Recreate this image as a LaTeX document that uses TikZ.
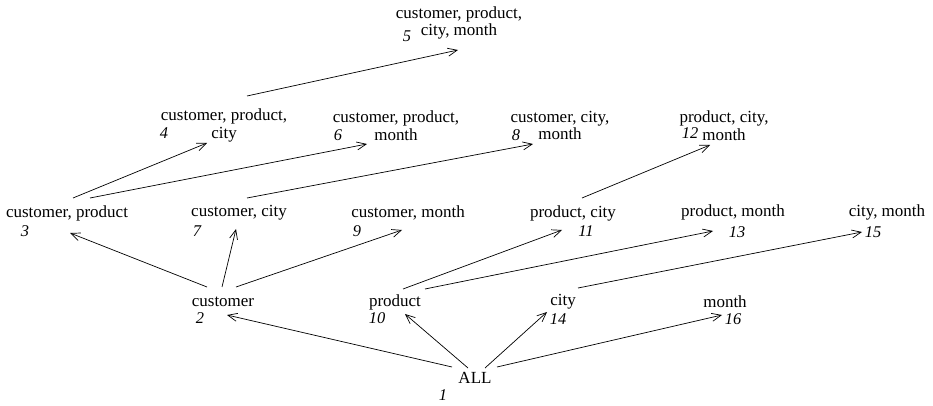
\documentclass[tikz,border=0pt]{standalone}
\usepackage{fontspec}
\setmainfont{Liberation Serif}
\usepackage{tikz}
\usetikzlibrary{arrows.meta}

\begin{document}
\begin{tikzpicture}[
  cell/.style={inner sep=0pt,align=center,font=\fontsize{14.5}{15}\selectfont},
  num/.style={inner sep=0pt,font=\fontsize{14}{15}\selectfont\itshape},
  up/.style={-{Straight Barb[length=2.8mm,width=2.4mm]},line width=0.6pt}]
\useasboundingbox (0,0) rectangle (27.99,12.18);

% lattice of cuboids
\node[cell] (all) at (14.25,0.84) {ALL};
\node[cell] (cu) at (6.69,3.12) {customer};
\node[cell] (pr) at (11.85,3.12) {product};
\node[cell] (ci) at (16.89,3.12) {city};
\node[cell] (mo) at (21.75,3.12) {month};
\node[cell] (cupr) at (2.01,5.79) {customer, product};
\node[cell] (cuci) at (7.17,5.79) {customer, city};
\node[cell] (cumo) at (12.24,5.79) {customer, month};
\node[cell] (prci) at (17.19,5.79) {product, city};
\node[cell] (prmo) at (21.99,5.82) {product, month};
\node[cell] (cimo) at (26.61,5.82) {city, month};
\node[cell] (cuprci) at (6.72,8.415) {customer, product,\\city};
\node[cell] (cuprmo) at (11.88,8.415) {customer, product,\\month};
\node[cell] (cucimo) at (16.8,8.415) {customer, city,\\month};
\node[cell] (prcimo) at (21.72,8.415) {product, city,\\month};
\node[cell] (cuprcimo) at (13.77,11.49) {customer, product,\\city, month};

% numbering
\node[num] (l1) at (13.29,0.33) {1};
\node[num] (l2) at (6.0,2.64) {2};
\node[num] (l3) at (0.75,5.25) {3};
\node[num] (l4) at (4.92,8.19) {4};
\node[num] (l5) at (12.21,11.1) {5};
\node[num] (l6) at (10.14,8.13) {6};
\node[num] (l7) at (5.91,5.25) {7};
\node[num] (l8) at (15.48,8.13) {8};
\node[num] (l9) at (10.71,5.25) {9};
\node[num] (l10) at (11.31,2.64) {10};
\node[num] (l11) at (17.58,5.25) {11};
\node[num] (l12) at (20.7,8.19) {12};
\node[num] (l13) at (22.11,5.22) {13};
\node[num] (l14) at (16.74,2.61) {14};
\node[num] (l15) at (26.19,5.22) {15};
\node[num] (l16) at (21.99,2.61) {16};

% roll-up arrows
\draw[up] ([shift={(-0.69,0.33)}]all.center) -- ([shift={(0.12,-0.39)}]cu.center);
\draw[up] ([shift={(-0.21,0.30)}]all.center) -- ([shift={(0.30,-0.36)}]pr.center);
\draw[up] ([shift={(0.30,0.30)}]all.center) -- ([shift={(-0.48,-0.30)}]ci.center);
\draw[up] ([shift={(0.66,0.33)}]all.center) -- ([shift={(-0.09,-0.39)}]mo.center);

\draw[up] ([shift={(-0.48,0.45)}]cu.center) -- ([shift={(0.09,-0.6)}]cupr.center);
\draw[up] ([shift={(-0.03,0.45)}]cu.center) -- ([shift={(-0.09,-0.48)}]cuci.center);
\draw[up] ([shift={(0.39,0.45)}]cu.center) -- ([shift={(-0.18,-0.51)}]cumo.center);
\draw[up] ([shift={(0.24,0.39)}]pr.center) -- ([shift={(-0.33,-0.51)}]prci.center);
\draw[up] ([shift={(0.9,0.39)}]pr.center) -- ([shift={(-0.6,-0.57)}]prmo.center);
\draw[up] ([shift={(0.45,0.42)}]ci.center) -- ([shift={(-0.75,-0.6)}]cimo.center);

\draw[up] ([shift={(0.18,0.45)}]cupr.center) -- ([shift={(-0.51,-0.525)}]cuprci.center);
\draw[up] ([shift={(0.69,0.45)}]cupr.center) -- ([shift={(-0.87,-0.555)}]cuprmo.center);
\draw[up] ([shift={(0.24,0.45)}]cuci.center) -- ([shift={(-0.81,-0.555)}]cucimo.center);
\draw[up] ([shift={(0.27,0.45)}]prci.center) -- ([shift={(-0.42,-0.585)}]prcimo.center);

\draw[up] ([shift={(0.69,0.885)}]cuprci.center) -- ([shift={(-0.03,-0.81)}]cuprcimo.center);

\end{tikzpicture}
\end{document}
